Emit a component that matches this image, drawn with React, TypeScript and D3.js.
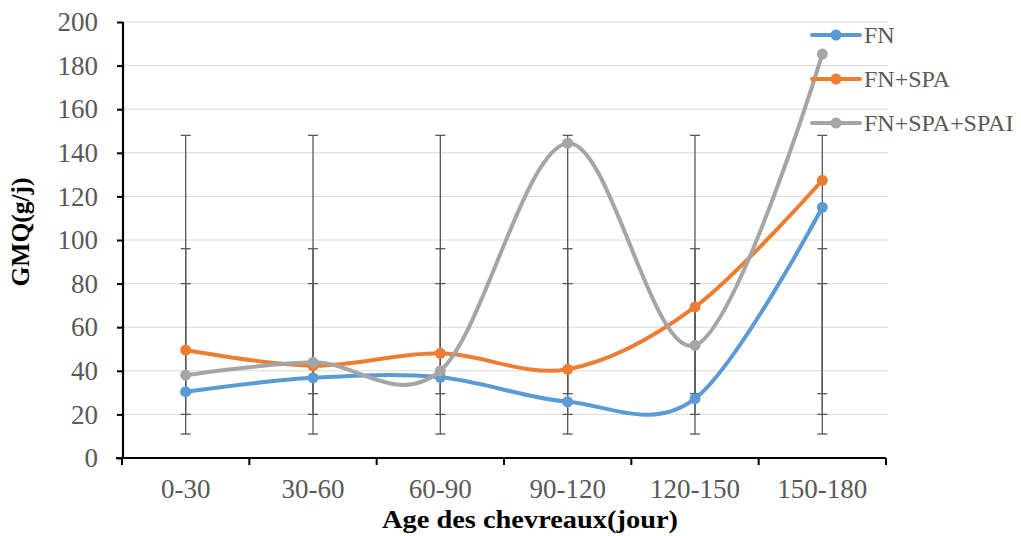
import React, { useEffect, useRef } from 'react';
import * as d3 from 'd3';

// categories and values
const ages = ['0-30', '30-60', '60-90', '90-120', '120-150', '150-180'];
const fn = [30.4, 36.8, 37, 25.8, 27.2, 115];
const fnSpa = [49.5, 42.3, 48, 40.7, 69.3, 127.4];
const fnSpaSpai = [38, 43.9, 40, 144.4, 51.7, 185.3];
const seriesNames = ['FN', 'FN+SPA', 'FN+SPA+SPAI'];
const seriesColors = ['#5B9BD5', '#ED7D31', '#A5A5A5'];
// error bar ends (same for every age class)
const errLow = [11, 20, 29.5];
const errHigh = [148, 96, 80];
const yTicks = [0, 20, 40, 60, 80, 100, 120, 140, 160, 180, 200];

const W = 1021;
const H = 536;
const FONT = '"Liberation Serif", "Times New Roman", serif';

const App = () => {
  const svgRef = useRef<SVGSVGElement>(null);

  useEffect(() => {
    const svg = d3.select(svgRef.current);
    svg.selectAll('*').remove();

    const x = d3.scaleBand().domain(ages).range([122, 886]);
    const y = d3.scaleLinear().domain([0, 200]).range([458, 22]);
    const cx = (d: string) => (x(d) as number) + x.bandwidth() / 2;

    // grid
    svg
      .append('g')
      .selectAll('line')
      .data(yTicks.slice(1))
      .join('line')
      .attr('x1', 123)
      .attr('x2', 888)
      .attr('y1', (d) => y(d))
      .attr('y2', (d) => y(d))
      .attr('stroke', '#D9D9D9')
      .attr('stroke-width', 1);

    // error bars
    const eb = svg.append('g').attr('stroke', '#595959').attr('stroke-width', 1.3);
    ages.forEach((a) => {
      errLow.forEach((lo, i) => {
        const hi = errHigh[i];
        eb.append('line').attr('x1', cx(a)).attr('x2', cx(a)).attr('y1', y(lo)).attr('y2', y(hi));
        [lo, hi].forEach((v) => {
          eb.append('line')
            .attr('x1', cx(a) - 5)
            .attr('x2', cx(a) + 5)
            .attr('y1', y(v))
            .attr('y2', y(v));
        });
      });
    });

    // axes
    const yAxis = svg
      .append('g')
      .attr('transform', 'translate(123,0)')
      .call(d3.axisLeft(y).tickValues(yTicks).tickSize(6).tickPadding(19));
    yAxis.select('.domain').attr('stroke', '#000').attr('stroke-width', 2.2).attr('d', `M0,${y(0)}V${y(200)}`);
    yAxis.selectAll('.tick line').attr('stroke', '#000').attr('stroke-width', 2);
    yAxis
      .selectAll('.tick text')
      .attr('fill', '#595959')
      .style('font-family', FONT)
      .style('font-size', '27px');

    const xAxis = svg
      .append('g')
      .attr('transform', `translate(0,${y(0)})`)
      .call(d3.axisBottom(x).tickSize(0).tickPadding(21));
    xAxis.select('.domain').attr('stroke', '#000').attr('stroke-width', 2.2).attr('d', 'M116,0H886');
    xAxis
      .selectAll('.tick text')
      .attr('fill', '#595959')
      .style('font-family', FONT)
      .style('font-size', '27px');
    const bounds = ages.map((a) => x(a) as number).concat([886]);
    xAxis
      .append('g')
      .selectAll('line')
      .data(bounds)
      .join('line')
      .attr('x1', (d) => d)
      .attr('x2', (d) => d)
      .attr('y1', 0)
      .attr('y2', 7)
      .attr('stroke', '#000')
      .attr('stroke-width', 2);

    // lines
    const series = [fn, fnSpa, fnSpaSpai];
    const line = d3
      .line<number>()
      .x((_, i) => cx(ages[i]))
      .y((d) => y(d))
      .curve(d3.curveCardinal.tension(0));
    series.forEach((vals, k) => {
      const g = svg.append('g');
      g.append('path')
        .attr('d', line(vals))
        .attr('fill', 'none')
        .attr('stroke', seriesColors[k])
        .attr('stroke-width', 4)
        .attr('stroke-linecap', 'round');
      g.selectAll('circle')
        .data(vals)
        .join('circle')
        .attr('cx', (_, i) => cx(ages[i]))
        .attr('cy', (d) => y(d))
        .attr('r', 5.5)
        .attr('fill', seriesColors[k]);
    });

    // legend
    const leg = svg.append('g');
    seriesNames.forEach((name, k) => {
      const ly = 35 + k * 44;
      leg.append('line')
        .attr('x1', 812)
        .attr('x2', 860)
        .attr('y1', ly)
        .attr('y2', ly)
        .attr('stroke', seriesColors[k])
        .attr('stroke-width', 4)
        .attr('stroke-linecap', 'round');
      leg.append('circle').attr('cx', 836).attr('cy', ly).attr('r', 5.5).attr('fill', seriesColors[k]);
      leg.append('text')
        .attr('x', 864)
        .attr('y', ly)
        .attr('dy', '0.35em')
        .attr('fill', '#595959')
        .style('font-family', FONT)
        .style('font-size', '24px')
        .text(name);
    });

    // axis titles
    svg
      .append('text')
      .attr('x', 530)
      .attr('y', 528)
      .attr('text-anchor', 'middle')
      .attr('font-weight', 'bold')
      .style('font-family', FONT)
      .style('font-size', '26px')
      .attr('textLength', 296)
      .attr('lengthAdjust', 'spacingAndGlyphs')
      .text('Age des chevreaux(jour)');
    svg
      .append('text')
      .attr('transform', 'translate(29,232) rotate(-90)')
      .attr('text-anchor', 'middle')
      .attr('font-weight', 'bold')
      .style('font-family', FONT)
      .style('font-size', '25px')
      .attr('textLength', 109)
      .attr('lengthAdjust', 'spacingAndGlyphs')
      .text('GMQ(g/j)');
  }, []);

  return (
    <div style={{ position: 'absolute', left: 0, top: 0 }}>
      <svg ref={svgRef} width={W} height={H} style={{ display: 'block', background: '#fff' }} />
    </div>
  );
};

export default App;
